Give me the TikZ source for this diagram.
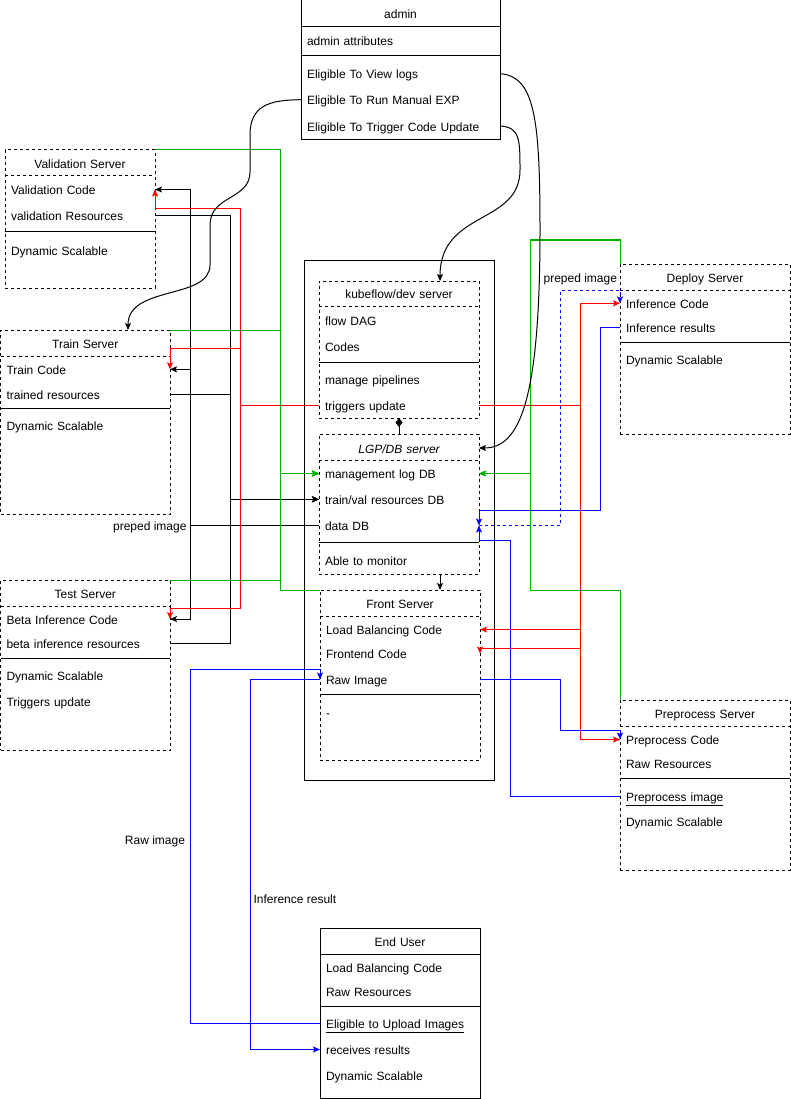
\documentclass[tikz,border=0pt]{standalone}
\usepackage{fontspec}
\setmainfont{Liberation Sans}
\usetikzlibrary{arrows.meta,calc}
\definecolor{egreen}{RGB}{0,175,0}
\definecolor{ered}{RGB}{255,0,0}
\definecolor{eblue}{RGB}{0,0,255}
\begin{document}
\begin{tikzpicture}[x=1pt,y=-1pt,
  font=\fontsize{12}{14}\selectfont,
  line width=1pt,
  every node/.style={outer sep=0pt},
  dbox/.style={draw, dash pattern=on 3pt off 3pt, fill=white, inner sep=0pt, anchor=north west},
  sbox/.style={draw, fill=white, inner sep=0pt, anchor=north west},
  obox/.style={draw, inner sep=0pt, anchor=north west},
  hdr/.style={text width=#1, align=center, inner xsep=6pt, inner ysep=0pt, minimum height=18pt, text height=11.5pt, text depth=1pt},
  row/.style={anchor=west, text width=#1, align=left, inner xsep=6pt, inner ysep=0pt, minimum height=18pt, text height=11.5pt, text depth=1pt},
  dsep/.style={dash pattern=on 3pt off 3pt},
  arr/.style={-{Stealth[length=7pt,width=6pt,inset=1.5pt]}},
  lbl/.style={inner sep=0pt, text height=11.5pt, text depth=1pt},
]
\useasboundingbox (0,0) rectangle (791,1099);

% outer container
\node[obox, minimum width=190pt, minimum height=520pt] (outer) at (304,260) {};

% admin
\node[sbox, minimum width=199pt, minimum height=140pt] (admin) at (301,0) {};
\node[hdr=187pt] (adminh) at (400.5,13.5) {admin};
\draw (301,27) -- (500,27);
\node[row=187pt] (adminattr) at (301,40) {admin attributes};
\draw (301,56) -- (500,56);
\node[row=187pt] (viewlogs) at (301,73.7) {Eligible To View logs};
\node[row=187pt] (runexp) at (301,99.7) {Eligible To Run Manual EXP};
\node[row=187pt] (trigupd) at (301,126) {Eligible To Trigger Code Update};

% validation
\node[dbox, minimum width=150pt, minimum height=138pt] (val) at (5,150) {};
\node[hdr=138pt] (valh) at (80,163.5) {Validation Server};
\draw[dsep] (5,176) -- (155,176);
\node[row=138pt] (valcode) at (5,189.5) {Validation Code};
\node[row=138pt] (valres) at (5,215.5) {validation Resources};
\draw (5,232) -- (155,232);
\node[row=138pt] (valdyn) at (5,250) {Dynamic Scalable};

% train
\node[dbox, minimum width=169.5pt, minimum height=184pt] (train) at (0.5,330) {};
\node[hdr=157.5pt] (trainh) at (85.25,343.5) {Train Server};
\draw[dsep] (0.5,356) -- (170,356);
\node[row=157.5pt] (trcode) at (0.5,369.3) {Train Code};
\node[row=157.5pt] (trres) at (0.5,394) {trained resources};
\draw (0.5,408) -- (170,408);
\node[row=157.5pt] (trdyn) at (0.5,425.7) {Dynamic Scalable};

% test
\node[dbox, minimum width=169.5pt, minimum height=170pt] (test) at (0.5,580) {};
\node[hdr=157.5pt] (testh) at (85.25,593.3) {Test Server};
\draw[dsep] (0.5,606) -- (170,606);
\node[row=157.5pt] (betacode) at (0.5,619) {Beta Inference Code};
\node[row=157.5pt] (betares) at (0.5,643.5) {beta inference resources};
\draw (0.5,658) -- (170,658);
\node[row=157.5pt] (testdyn) at (0.5,675.7) {Dynamic Scalable};
\node[row=157.5pt] (testtrig) at (0.5,701.7) {Triggers update};

% kubeflow
\node[dbox, minimum width=160pt, minimum height=137pt] (kube) at (319,281) {};
\node[hdr=148pt] (kubeh) at (399,293.3) {kubeflow/dev server};
\draw[dsep] (319,306) -- (479,306);
\node[row=148pt] (flowdag) at (319,320) {flow DAG};
\node[row=148pt] (codes) at (319,346) {Codes};
\draw (319,362) -- (479,362);
\node[row=148pt] (manage) at (319,379.3) {manage pipelines};
\node[row=148pt] (trig) at (319,405.5) {triggers update};

% LGP/DB
\node[dbox, minimum width=160pt, minimum height=140pt] (lgp) at (319,434) {};
\node[hdr=148pt, font=\fontsize{12}{14}\selectfont\itshape] (lgph) at (399,448) {LGP/DB server};
\draw[dsep] (319,460) -- (479,460);
\node[row=148pt] (mlog) at (319,473.5) {management log DB};
\node[row=148pt] (tvdb) at (319,499.3) {train/val resources DB};
\node[row=148pt] (datadb) at (319,525.5) {data DB};
\draw (319,542) -- (479,542);
\node[row=148pt] (monitor) at (319,560) {Able to monitor};

% front
\node[dbox, minimum width=160pt, minimum height=170pt] (front) at (320,590) {};
\node[hdr=148pt] (fronth) at (400,603.5) {Front Server};
\draw[dsep] (320,616) -- (480,616);
\node[row=148pt] (lbcode) at (320,629.5) {Load Balancing Code};
\node[row=148pt] (fecode) at (320,653.5) {Frontend Code};
\node[row=148pt] (rawimg) at (320,679.5) {Raw Image};
\draw (320,694) -- (480,694);
\node[row=148pt] (frontdash) at (320,712) {-};

% deploy
\node[dbox, minimum width=170pt, minimum height=170pt] (deploy) at (620,264) {};
\node[hdr=158pt] (deployh) at (705,277.5) {Deploy Server};
\draw[dsep] (620,290) -- (790,290);
\node[row=158pt] (infcode) at (620,303.3) {Inference Code};
\node[row=158pt] (infres) at (620,327.5) {Inference results};
\draw (620,342) -- (790,342);
\node[row=158pt] (depdyn) at (620,359.3) {Dynamic Scalable};

% preprocess
\node[dbox, minimum width=170pt, minimum height=170pt] (pp) at (620,700) {};
\node[hdr=158pt] (pph) at (705,713.5) {Preprocess Server};
\draw[dsep] (620,726) -- (790,726);
\node[row=158pt] (ppcode) at (620,739.5) {Preprocess Code};
\node[row=158pt] (pprawres) at (620,763.5) {Raw Resources};
\draw (620,778) -- (790,778);
\node[row=158pt] (ppimg) at (620,796) {\underline{Preprocess image}};
\node[row=158pt] (ppdyn) at (620,821.5) {Dynamic Scalable};

% end user
\node[sbox, minimum width=160pt, minimum height=170pt] (user) at (320,928) {};
\node[hdr=148pt] (userh) at (400,941.5) {End User};
\draw (320,954) -- (480,954);
\node[row=148pt] (userlb) at (320,967.5) {Load Balancing Code};
\node[row=148pt] (userraw) at (320,991.5) {Raw Resources};
\draw (320,1006) -- (480,1006);
\node[row=148pt] (upload) at (320,1023.5) {\underline{Eligible to Upload Images}};
\node[row=148pt] (recv) at (320,1049.5) {receives results};
\node[row=148pt] (userdyn) at (320,1075.5) {Dynamic Scalable};

% ---- connectors ----
% black: preped image
\draw[arr] (datadb.west) -| ($(valcode.east)+(35,0)$) -- (valcode.east);
\draw[arr] (datadb.west) -| ($(trcode.east)+(20,0)$) -- (trcode.east);
\draw[arr] (datadb.west) -| ($(betacode.east)+(20,0)$) -- (betacode.east);
\node[lbl, anchor=east] (lblprep1) at (186.5,525.5) {preped image};

% black: resources
\draw[arr] (valres.east) -| ($(tvdb.west)+(-89,0)$) -- (tvdb.west);
\draw[arr] (trres.east) -| ($(tvdb.west)+(-89,0)$) -- (tvdb.west);
\draw[arr] (betares.east) -| ($(tvdb.west)+(-89,0)$) -- (tvdb.west);

% red
\draw[ered, arr] (trig.west) -| ($(valcode.east)+(85,19)$) -| (valcode.east);
\draw[ered, arr] (trig.west) -| ($(trcode.east)+(70,-21)$) -| (trcode.east);
\draw[ered, arr] (trig.west) -| ($(betacode.east)+(70,-11)$) -| (betacode.east);
\draw[ered, arr] (trig.east) -| ($(infcode.west)+(-40,0)$) -- (infcode.west);
\draw[ered, arr] (trig.east) -| ($(ppcode.west)+(-40,0)$) -- (ppcode.west);
\draw[ered, arr] (trig.east) -| ($(lbcode.east)+(100,0)$) -- (lbcode.east);
\draw[ered, arr] (trig.east) -| ($(fecode.east)+(100,-5)$) -| (fecode.east);

% green
\draw[egreen, arr] (val.north east) -| ($(mlog.west)+(-39,0)$) -- (mlog.west);
\draw[egreen, arr] (train.north east) -| ($(mlog.west)+(-39,0)$) -- (mlog.west);
\draw[egreen, arr] (test.north east) -| ($(mlog.west)+(-39,0)$) -- (mlog.west);
\draw[egreen, arr] (front.north west) -| ($(mlog.west)+(-39,0)$) -- (mlog.west);
\draw[egreen, arr] (deploy.north west) -- ($(deploy.north west)+(0,-24)$) -| ($(mlog.east)+(51,0)$) -- (mlog.east);
\draw[egreen, arr] (pp.north west) -- ($(pp.north west)+(0,-110)$) -| ($(mlog.east)+(51,0)$) -- (mlog.east);

% blue
\draw[eblue, arr] (infres.west) -| ($(datadb.east)+(121,-15)$) -| (datadb.east);
\draw[eblue, arr, dsep] (datadb.east) -| ($(infcode.west)+(-60,-13)$) -| (infcode.west);
\node[lbl, anchor=east] (lblprep2) at (617,277.5) {preped image};
\draw[eblue, arr] (ppimg.west) -| ($(datadb.east)+(31,15)$) -| (datadb.east);
\draw[eblue, arr] (rawimg.east) -| ($(ppcode.west)+(-60,-9)$) -| (ppcode.west);
\draw[eblue, arr] (upload.west) -| ($(rawimg.west)+(-130,-10)$) -| (rawimg.west);
\draw[eblue, arr] (rawimg.west) -| ($(recv.west)+(-70,0)$) -- (recv.west);
\node[lbl, anchor=east] (lblraw) at (185,839) {Raw image};
\node[lbl, anchor=west] (lblinf) at (253.5,898.5) {Inference result};

% kube - lgp, lgp - front
\draw[{Diamond[length=9pt,width=7pt]}-] (kube.south) -- (lgp.north);
\draw[arr] ($(lgp.south)+(41,0)$) -- ($(front.north)+(40,0)$);

% curves from admin
\draw[arr] (runexp.west) .. controls (270,100) and (250,105) .. (250,135) -- (250,172)
  .. controls (250,200) and (210,195) .. (210,225) -- (210,265)
  .. controls (210,300) and (128,285) .. ($(train.north east)+(-42,0)$);
\draw[arr] (viewlogs.east) .. controls (535,76) and (540,120) .. (540,230)
  .. controls (540,400) and (520,448) .. (lgph.east);
\draw[arr] (trigupd.east) .. controls (520,127) and (520,140) .. (520,170)
  .. controls (520,225) and (440,210) .. ($(kube.north)+(41,0)$);
\end{tikzpicture}
\end{document}
